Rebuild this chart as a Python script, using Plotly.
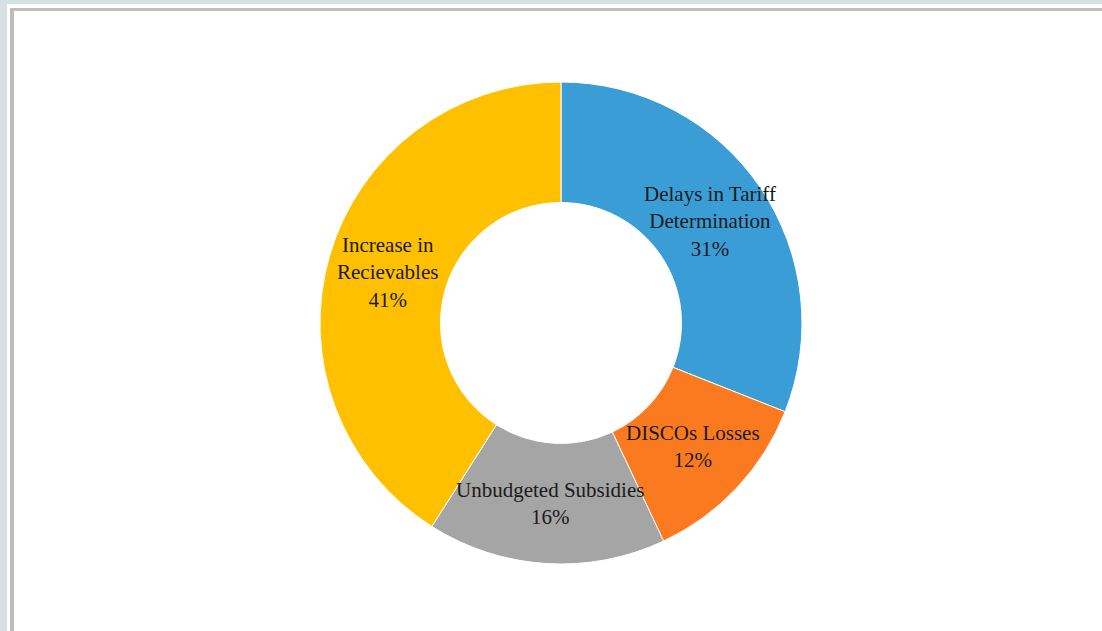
import math
import plotly.graph_objects as go

categories = ["Delays in Tariff<br>Determination", "DISCOs Losses", "Unbudgeted Subsidies", "Increase in<br>Recievables"]
values = [31, 12, 16, 41]
colors = ["#3a9dd6", "#fb7a1f", "#a5a5a5", "#ffc000"]

W, H = 1102, 631
HOLE = 0.5
PIE_X = (320, 802)
PIE_Y = (82, 564)

fig = go.Figure(go.Pie(
    labels=categories,
    values=values,
    hole=HOLE,
    sort=False,
    direction="clockwise",
    rotation=0,
    marker=dict(colors=colors, line=dict(color="white", width=1)),
    textinfo="none",
    domain=dict(x=[PIE_X[0] / W, PIE_X[1] / W], y=[1 - PIE_Y[1] / H, 1 - PIE_Y[0] / H]),
    showlegend=False,
    hoverinfo="skip",
))

# Labels at the ring mid-radius, placed at each slice's mid angle (derived from data)
cx = (PIE_X[0] + PIE_X[1]) / 2
cy = (PIE_Y[0] + PIE_Y[1]) / 2
r_out = (PIE_X[1] - PIE_X[0]) / 2
r_mid = r_out * (1 + HOLE) / 2
total = sum(values)
cum = 0
annotations = []
for lab, v in zip(categories, values):
    mid = (cum + v / 2) / total * 2 * math.pi
    cum += v
    px = cx + r_mid * math.sin(mid)
    py = cy - r_mid * math.cos(mid)
    annotations.append(dict(
        x=px / W, y=1 - py / H, xref="paper", yref="paper",
        text=f"{lab}<br>{round(v / total * 100)}%",
        showarrow=False, xanchor="center", yanchor="middle",
        font=dict(family="Liberation Serif, Times New Roman, serif", size=21, color="#1a1a1a"),
    ))

def px_rect(x0, y0, x1, y1, color):
    return dict(type="rect", xref="paper", yref="paper",
                x0=x0 / W, x1=x1 / W, y0=1 - y1 / H, y1=1 - y0 / H,
                fillcolor=color, line=dict(width=0), layer="below")

shapes = [
    px_rect(0, 0, W, 4, "#d7e1e3"),
    px_rect(0, 0, 7, H, "#d7e1e3"),
    px_rect(10, 8, W, 11, "#bdbdbd"),
    px_rect(10, 8, 14, H, "#bdbdbd"),
]

fig.update_layout(
    width=W, height=H,
    margin=dict(l=0, r=0, t=0, b=0),
    paper_bgcolor="white",
    plot_bgcolor="white",
    shapes=shapes,
    annotations=annotations,
)

fig.write_html("out.html")
